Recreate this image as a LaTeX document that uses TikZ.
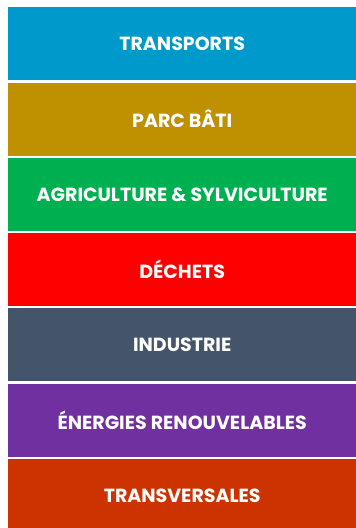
\documentclass[tikz,border=0pt]{standalone}
\usepackage{fontspec}
\setmainfont{Poppins}
\usepackage{tikz}

\definecolor{bandblue}{HTML}{0099CC}
\definecolor{bandgold}{HTML}{BF9000}
\definecolor{bandgreen}{HTML}{00B050}
\definecolor{bandred}{HTML}{FF0000}
\definecolor{bandslate}{HTML}{44546A}
\definecolor{bandpurple}{HTML}{7030A0}
\definecolor{bandorange}{HTML}{CC3300}

\tikzset{
  sector/.style={anchor=north west, inner sep=0, minimum width=348pt,
    minimum height=73pt, text=white,
    font=\fontsize{19}{22}\selectfont\bfseries}
}

\begin{document}
\begin{tikzpicture}[x=1pt,y=1pt]
\useasboundingbox (0,0) rectangle (356,-528);

\foreach \Col/\Label [count=\i] in {bandblue/TRANSPORTS, bandgold/PARC BÂTI,
    bandgreen/AGRICULTURE \& SYLVICULTURE, bandred/DÉCHETS,
    bandslate/INDUSTRIE, bandpurple/ÉNERGIES RENOUVELABLES,
    bandorange/TRANSVERSALES}{
    \node[sector, fill=\Col] (band\i) at (8,{-7-75.3*(\i-1)}) {\Label};
}

\end{tikzpicture}
\end{document}
